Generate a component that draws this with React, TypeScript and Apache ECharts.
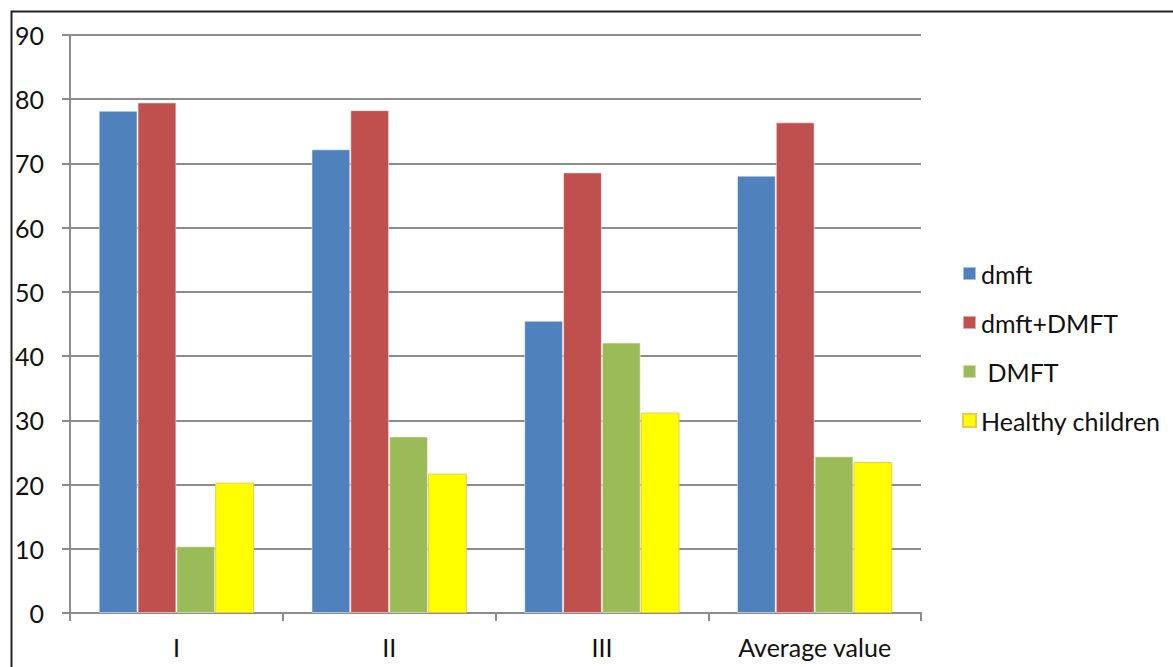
import React, { useEffect, useRef } from "react";
import * as echarts from "echarts";

const categories = ["I", "II", "III", "Average value"];
const seriesNames = ["dmft", "dmft+DMFT", " DMFT", "Healthy children"];
const dmft = [78.2, 72.2, 45.5, 68.1];
const dmftPlusDMFT = [79.5, 78.3, 68.6, 76.4];
const DMFT = [10.4, 27.5, 42.1, 24.4];
const healthy = [20.3, 21.7, 31.2, 23.5];
const yTicks = { min: 0, max: 90, interval: 10 };

const colors = ["#4F81BD", "#C0504D", "#9BBB59", "#FFFF00"];
const FONT = "Lato, 'Open Sans', sans-serif";

export default function App() {
  const ref = useRef<HTMLDivElement>(null);

  useEffect(() => {
    if (!ref.current) return;
    const chart = echarts.init(ref.current, undefined, { renderer: "svg" });
    const values = [dmft, dmftPlusDMFT, DMFT, healthy];

    chart.setOption({
      animation: false,
      backgroundColor: "#ffffff",
      textStyle: { fontFamily: FONT },
      grid: { left: 70, right: 252, top: 35, bottom: 54, containLabel: false },
      legend: {
        orient: "vertical",
        left: 957,
        top: 256,
        icon: "rect",
        itemWidth: 13,
        itemHeight: 13,
        itemGap: 24,
        textStyle: { fontSize: 25, color: "#111", fontFamily: FONT },
        data: seriesNames,
      },
      xAxis: {
        type: "category",
        data: categories,
        axisLine: { show: true, lineStyle: { color: "#8c8c8c", width: 2 } },
        axisTick: { show: true, alignWithLabel: false, length: 8, lineStyle: { color: "#8c8c8c", width: 2 } },
        axisLabel: { fontSize: 25, color: "#111", margin: 21, fontFamily: FONT },
        splitLine: { show: false },
      },
      yAxis: {
        type: "value",
        min: yTicks.min,
        max: yTicks.max,
        interval: yTicks.interval,
        axisLine: { show: true, lineStyle: { color: "#8c8c8c", width: 2 } },
        axisTick: { show: true, inside: false, length: 8, lineStyle: { color: "#8c8c8c", width: 2 } },
        axisLabel: { fontSize: 25, color: "#111", margin: 26, fontFamily: FONT },
        splitLine: { show: true, lineStyle: { color: "#8c8c8c", width: 2 } },
      },
      series: seriesNames.map((name, i) => ({
        name,
        type: "bar",
        data: values[i],
        barGap: "0%",
        barCategoryGap: "27%",
        itemStyle: {
          color: colors[i],
          borderColor: i === 3 ? "#F2C84B" : "rgba(255,255,255,0.5)",
          borderWidth: 1,
        },
      })),
      graphic: [
        {
          type: "polyline",
          shape: { points: [[11.5, 667], [11.5, 11.5], [1173, 11.5]] },
          style: { stroke: "#222", lineWidth: 2, fill: "none" },
          silent: true,
        },
      ],
    });

    return () => chart.dispose();
  }, []);

  return (
    <div
      ref={ref}
      style={{ position: "fixed", left: 0, top: 0, width: 1173, height: 667 }}
    />
  );
}
